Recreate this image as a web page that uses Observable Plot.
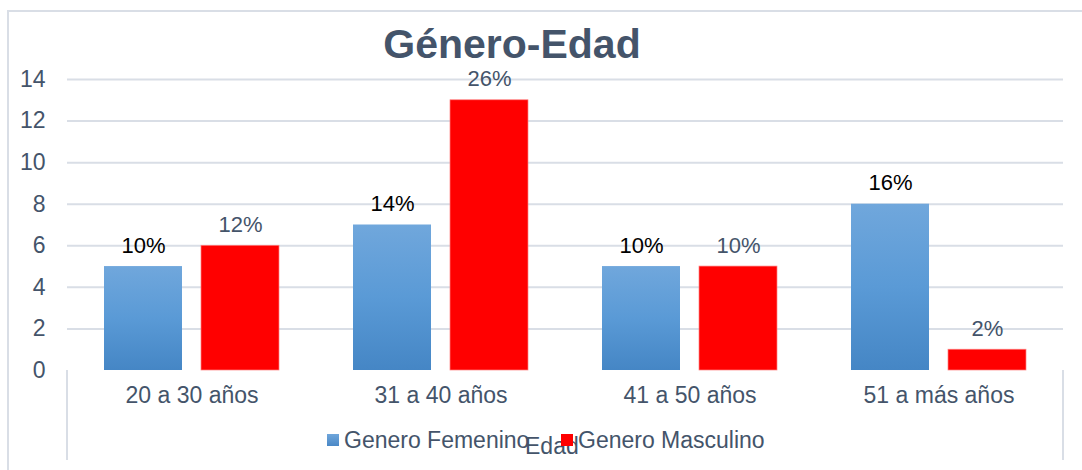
<!DOCTYPE html>
<html><head><meta charset="utf-8">
<script src="https://cdn.jsdelivr.net/npm/d3@7"></script>
<script src="https://cdn.jsdelivr.net/npm/@observablehq/plot@0.6"></script>
<style>
body{margin:0;background:#fff;font-family:"Liberation Sans",Arial,sans-serif;}
#wrap{position:relative;width:1082px;height:470px;overflow:hidden;}
#chart{position:absolute;left:0;top:0;}
.ln{position:absolute;background:#d9dee6;}
#title{position:absolute;left:0;width:1024px;top:24px;text-align:center;font-size:41px;font-weight:bold;color:#44546a;line-height:1;}
.lg{position:absolute;font-size:23px;color:#44546a;line-height:1;white-space:nowrap;}
.sw{position:absolute;width:12px;height:12px;}
</style></head><body>
<div id="wrap">
<div class="ln" style="left:7px;top:10px;width:1075px;height:2px"></div>
<div class="ln" style="left:7px;top:10px;width:2px;height:460px"></div>
<div class="ln" style="left:66px;top:370px;width:2px;height:90px"></div>
<div class="ln" style="left:1062px;top:370px;width:2px;height:90px"></div>
<div id="chart"></div>
<div id="title">Género-Edad</div>
<div class="sw" style="left:327px;top:434px;background:linear-gradient(#6fa6db,#4a88c6)"></div>
<div class="lg" style="left:344px;top:429px">Genero Femenino</div>
<div class="lg" style="left:525px;top:435px">Edad</div>
<div class="sw" style="left:561px;top:434px;background:#ff0000"></div>
<div class="lg" style="left:578px;top:429px">Genero Masculino</div>
</div>
<script>
const categories = ["20 a 30 años", "31 a 40 años", "41 a 50 años", "51 a más años"];
const series = ["Genero Femenino", "Genero Masculino"];
const femenino = [5, 7, 5, 8];
const masculino = [6, 13, 5, 1];
const femLabels = ["10%", "14%", "10%", "16%"];
const mascLabels = ["12%", "26%", "10%", "2%"];
const yTicks = [0, 2, 4, 6, 8, 10, 12, 14];

const data = [];
categories.forEach((c, i) => {
  data.push({cat: c, serie: series[0], value: femenino[i], label: femLabels[i]});
  data.push({cat: c, serie: series[1], value: masculino[i], label: mascLabels[i]});
});

const defs = () => {
  const d = d3.create("svg:defs");
  const g = d.append("linearGradient").attr("id", "blueGrad")
    .attr("x1", 0).attr("y1", 0).attr("x2", 0).attr("y2", 1);
  g.append("stop").attr("offset", "0%").attr("stop-color", "#70a7dc");
  g.append("stop").attr("offset", "50%").attr("stop-color", "#5a9ad6");
  g.append("stop").attr("offset", "100%").attr("stop-color", "#4586c5");
  return d.node();
};

const plot = Plot.plot({
  width: 1082,
  height: 470,
  marginLeft: 67,
  marginRight: 19,
  marginTop: 79,
  marginBottom: 100,
  style: {fontFamily: "'Liberation Sans', Arial, sans-serif", background: "transparent", color: "#44546a"},
  fx: {domain: categories, padding: 0, label: null, axis: null},
  x: {domain: series, paddingInner: 0.196, paddingOuter: 0.38, axis: null},
  y: {domain: [0, 14], label: null, axis: null},
  color: {domain: series, range: ["url(#blueGrad)", "#ff0000"]},
  marks: [
    defs,
    Plot.gridY(yTicks.filter(t => t > 0), {stroke: "#d9dee6", strokeOpacity: 1, strokeWidth: 2}),
    Plot.axisY({ticks: yTicks, tickSize: 0, tickPadding: 22, fontSize: 23, label: null, fill: "#44546a"}),
    Plot.axisFx({anchor: "bottom", tickSize: 0, tickPadding: 16, fontSize: 23, label: null, fill: "#44546a"}),
    Plot.barY(data, {fx: "cat", x: "serie", y: "value", fill: "serie",
      stroke: d => d.serie === series[1] ? "#ff8080" : "none", strokeWidth: 0.7}),
    Plot.text(data, {fx: "cat", x: "serie", y: "value", text: "label", dy: -21, fontSize: 22,
      fill: d => d.serie === series[0] ? "#000000" : "#44546a"})
  ]
});
plot.querySelectorAll('g[aria-label="y-axis tick label"]').forEach(g => g.setAttribute("font-size", 23));
plot.querySelectorAll('g[aria-label="fx-axis tick label"]').forEach(g => g.setAttribute("font-size", 23));
plot.querySelectorAll('g[aria-label="text"]').forEach(g => g.setAttribute("font-size", 22));
document.getElementById("chart").appendChild(plot);
</script>
</body></html>
